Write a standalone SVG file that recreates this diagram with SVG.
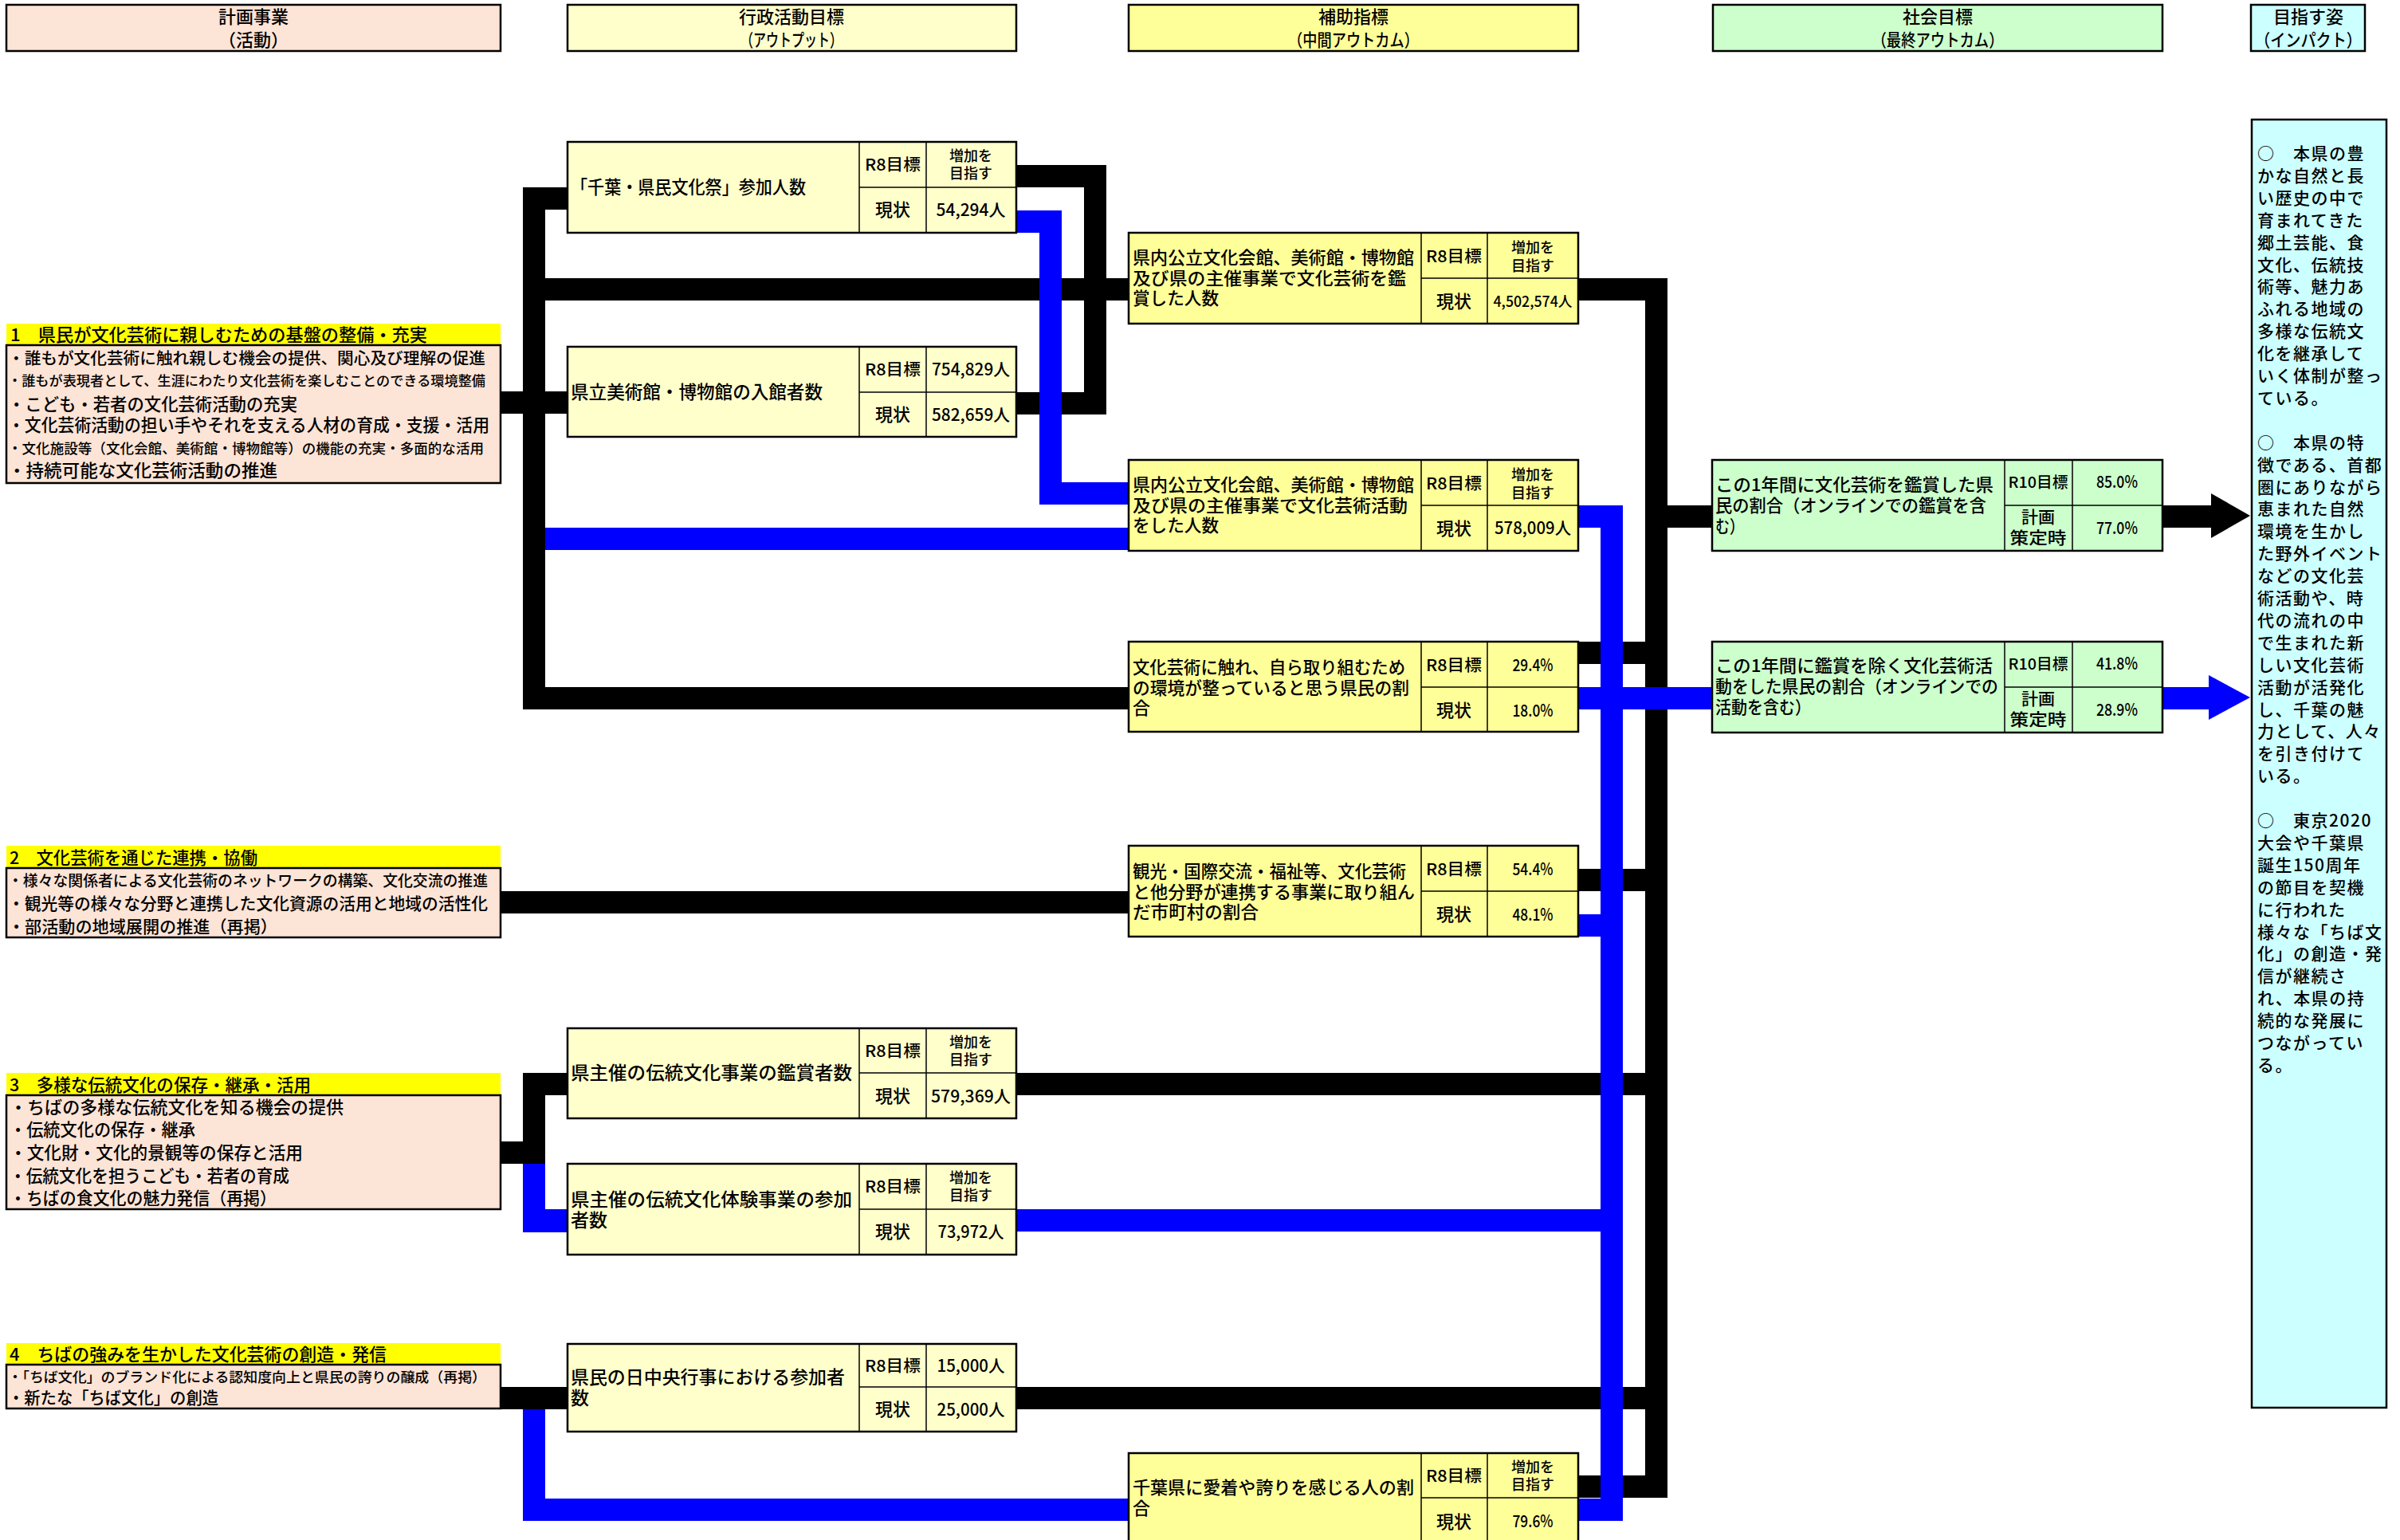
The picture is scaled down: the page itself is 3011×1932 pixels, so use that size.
<svg xmlns="http://www.w3.org/2000/svg" width="3011" height="1932" viewBox="0 0 3011 1932">
<style>
text{font-family:"Noto Sans CJK JP","Noto Sans CJK SC",sans-serif;fill:#000;font-weight:500}
.c{text-anchor:middle}
.bx{stroke:#000;stroke-width:2.5}
.dv{stroke:#000;stroke-width:1.5;fill:none}
.pe{fill:#FCE4D6}.ly{fill:#FFFFCC}.yy{fill:#FFFF99}.gr{fill:#CCFFCC}.cy{fill:#CCFFFF}.ye{fill:#FFFF00}
.k{fill:#000}.b{fill:#0000FF}
.h{font-size:22px}.lb{font-size:22px}.ol{font-size:22.5px}.r8{font-size:20px}.sm{font-size:18px}.gj{font-size:22px}.v{font-size:21px}
.im{font-size:21px;letter-spacing:1.5px}
</style>
<rect width="3011" height="1932" fill="#fff"/>

<g id="connectors">
<g class="k">
<rect x="628" y="491" width="84" height="28"/>
<rect x="656" y="235" width="28" height="655"/>
<rect x="656" y="235" width="56" height="28"/>
<rect x="656" y="349" width="760" height="28"/>
<rect x="656" y="862" width="760" height="28"/>
<rect x="1275" y="207" width="113" height="28"/>
<rect x="1360" y="207" width="28" height="313"/>
<rect x="1275" y="492" width="113" height="28"/>
<rect x="628" y="1118" width="788" height="28"/>
<rect x="628" y="1432" width="56" height="28"/>
<rect x="656" y="1346" width="28" height="114"/>
<rect x="656" y="1346" width="56" height="28"/>
<rect x="628" y="1740" width="84" height="28"/>
<rect x="1980" y="349" width="112" height="28"/>
<rect x="2064" y="349" width="28" height="1530"/>
<rect x="1980" y="805" width="84" height="28"/>
<rect x="1980" y="1090" width="84" height="28"/>
<rect x="1275" y="1346" width="789" height="28"/>
<rect x="1275" y="1740" width="789" height="28"/>
<rect x="1980" y="1851" width="112" height="28"/>
<rect x="2064" y="634" width="84" height="28"/>
<rect x="2713" y="634" width="62" height="28"/>
<polygon points="2774,619 2823,647 2774,675"/>
</g>
<g class="b">
<rect x="684" y="662" width="732" height="28"/>
<rect x="1275" y="264" width="57" height="28"/>
<rect x="1304" y="264" width="28" height="369"/>
<rect x="1304" y="605" width="112" height="28"/>
<rect x="1980" y="634" width="56" height="28"/>
<rect x="2008" y="634" width="28" height="1274"/>
<rect x="1980" y="862" width="168" height="28"/>
<rect x="1980" y="1147" width="28" height="28"/>
<rect x="1275" y="1517" width="733" height="28"/>
<rect x="1980" y="1880" width="56" height="28"/>
<rect x="656" y="1460" width="28" height="86"/>
<rect x="656" y="1517" width="56" height="29"/>
<rect x="656" y="1768" width="28" height="140"/>
<rect x="656" y="1880" width="760" height="28"/>
<rect x="2713" y="862" width="60" height="28"/>
<polygon points="2771,847 2823,875 2771,903"/>
</g>
</g>

<g id="hdr-plan"><rect class="bx pe" x="8" y="6" width="620" height="58"/><text class="c h" x="318" y="29">計画事業</text><text class="c h" x="318" y="58">（活動）</text></g>
<g id="hdr-output"><rect class="bx ly" x="712" y="6" width="563" height="58"/><text class="c h" x="993" y="29">行政活動目標</text><text class="c h" x="993" y="58" textLength="128" lengthAdjust="spacingAndGlyphs">（アウトプット）</text></g>
<g id="hdr-mid"><rect class="bx yy" x="1416" y="6" width="564" height="58"/><text class="c h" x="1698" y="29">補助指標</text><text class="c h" x="1698" y="58" textLength="164" lengthAdjust="spacingAndGlyphs">（中間アウトカム）</text></g>
<g id="hdr-final"><rect class="bx gr" x="2149" y="6" width="564" height="58"/><text class="c h" x="2431" y="29">社会目標</text><text class="c h" x="2431" y="58" textLength="165" lengthAdjust="spacingAndGlyphs">（最終アウトカム）</text></g>
<g id="hdr-impact"><rect class="bx cy" x="2824" y="6" width="143" height="58"/><text class="c h" x="2896" y="29">目指す姿</text><text class="c h" x="2896" y="58" textLength="134" lengthAdjust="spacingAndGlyphs">（インパクト）</text></g>

<g id="plan-1">
<rect class="ye" x="8" y="406" width="620" height="27"/>
<rect class="bx pe" x="8" y="433" width="620" height="173"/>
<text x="13" y="428" font-size="22" textLength="523" lengthAdjust="spacingAndGlyphs">1　県民が文化芸術に親しむための基盤の整備・充実</text>
<text x="10" y="457" font-size="20" textLength="599" lengthAdjust="spacingAndGlyphs">・誰もが文化芸術に触れ親しむ機会の提供、関心及び理解の促進</text>
<text x="10" y="484" font-size="17" textLength="599" lengthAdjust="spacingAndGlyphs">・誰もが表現者として、生涯にわたり文化芸術を楽しむことのできる環境整備</text>
<text x="10" y="515" font-size="21.5" textLength="363" lengthAdjust="spacingAndGlyphs">・こども・若者の文化芸術活動の充実</text>
<text x="10" y="541" font-size="21.5" textLength="604" lengthAdjust="spacingAndGlyphs">・文化芸術活動の担い手やそれを支える人材の育成・支援・活用</text>
<text x="10" y="569" font-size="17.5" textLength="597" lengthAdjust="spacingAndGlyphs">・文化施設等（文化会館、美術館・博物館等）の機能の充実・多面的な活用</text>
<text x="10" y="598" font-size="22" textLength="338" lengthAdjust="spacingAndGlyphs">・持続可能な文化芸術活動の推進</text>
</g>

<g id="plan-2">
<rect class="ye" x="8" y="1061" width="620" height="28"/>
<rect class="bx pe" x="8" y="1089" width="620" height="87"/>
<text x="12" y="1084" font-size="21.5" textLength="311" lengthAdjust="spacingAndGlyphs">2　文化芸術を通じた連携・協働</text>
<text x="10" y="1112" font-size="19" textLength="602" lengthAdjust="spacingAndGlyphs">・様々な関係者による文化芸術のネットワークの構築、文化交流の推進</text>
<text x="10" y="1141" font-size="21" textLength="602" lengthAdjust="spacingAndGlyphs">・観光等の様々な分野と連携した文化資源の活用と地域の活性化</text>
<text x="10" y="1170" font-size="21" textLength="338" lengthAdjust="spacingAndGlyphs">・部活動の地域展開の推進（再掲）</text>
</g>

<g id="plan-3">
<rect class="ye" x="8" y="1346" width="620" height="28"/>
<rect class="bx pe" x="8" y="1374" width="620" height="143"/>
<text x="12" y="1369" font-size="21.5" textLength="378" lengthAdjust="spacingAndGlyphs">3　多様な伝統文化の保存・継承・活用</text>
<text x="12" y="1397" font-size="21.5" textLength="419" lengthAdjust="spacingAndGlyphs">・ちばの多様な伝統文化を知る機会の提供</text>
<text x="12" y="1425" font-size="21.5" textLength="233" lengthAdjust="spacingAndGlyphs">・伝統文化の保存・継承</text>
<text x="12" y="1454" font-size="21.5" textLength="368" lengthAdjust="spacingAndGlyphs">・文化財・文化的景観等の保存と活用</text>
<text x="12" y="1483" font-size="21.5" textLength="351" lengthAdjust="spacingAndGlyphs">・伝統文化を担うこども・若者の育成</text>
<text x="12" y="1511" font-size="21.5" textLength="335" lengthAdjust="spacingAndGlyphs">・ちばの食文化の魅力発信（再掲）</text>
</g>

<g id="plan-4">
<rect class="ye" x="8" y="1685" width="620" height="27"/>
<rect class="bx pe" x="8" y="1712" width="620" height="55"/>
<text x="12" y="1707" font-size="22" textLength="473" lengthAdjust="spacingAndGlyphs">4　ちばの強みを生かした文化芸術の創造・発信</text>
<text x="10" y="1734" font-size="17.5" textLength="600" lengthAdjust="spacingAndGlyphs">・「ちば文化」のブランド化による認知度向上と県民の誇りの醸成（再掲）</text>
<text x="10" y="1761" font-size="21" textLength="264" lengthAdjust="spacingAndGlyphs">・新たな「ちば文化」の創造</text>
</g>

<g id="out-1">
<rect class="bx ly" x="712" y="178" width="563" height="114"/>
<path class="dv" d="M1078 178V292M1162 178V292M1078 235H1275"/>
<text class="ol" x="716" y="243" textLength="295" lengthAdjust="spacingAndGlyphs">「千葉・県民文化祭」参加人数</text>
<text class="c r8" x="1120" y="214" textLength="70" lengthAdjust="spacingAndGlyphs">R8目標</text>
<text class="c sm" x="1218" y="202">増加を</text>
<text class="c sm" x="1218" y="224">目指す</text>
<text class="c gj" x="1120" y="271">現状</text>
<text class="c v" x="1218" y="271" textLength="87" lengthAdjust="spacingAndGlyphs">54,294人</text>
</g>

<g id="out-2">
<rect class="bx ly" x="712" y="435" width="563" height="113"/>
<path class="dv" d="M1078 435V548M1162 435V548M1078 492H1275"/>
<text class="ol" x="716" y="500" textLength="316" lengthAdjust="spacingAndGlyphs">県立美術館・博物館の入館者数</text>
<text class="c r8" x="1120" y="471" textLength="70" lengthAdjust="spacingAndGlyphs">R8目標</text>
<text class="c v" x="1218" y="471" textLength="98" lengthAdjust="spacingAndGlyphs">754,829人</text>
<text class="c gj" x="1120" y="528">現状</text>
<text class="c v" x="1218" y="528" textLength="98" lengthAdjust="spacingAndGlyphs">582,659人</text>
</g>

<g id="out-3">
<rect class="bx ly" x="712" y="1290" width="563" height="113"/>
<path class="dv" d="M1078 1290V1403M1162 1290V1403M1078 1346H1275"/>
<text class="ol" x="716" y="1354" textLength="353" lengthAdjust="spacingAndGlyphs">県主催の伝統文化事業の鑑賞者数</text>
<text class="c r8" x="1120" y="1326" textLength="70" lengthAdjust="spacingAndGlyphs">R8目標</text>
<text class="c sm" x="1218" y="1314">増加を</text>
<text class="c sm" x="1218" y="1336">目指す</text>
<text class="c gj" x="1120" y="1383">現状</text>
<text class="c v" x="1218" y="1383" textLength="100" lengthAdjust="spacingAndGlyphs">579,369人</text>
</g>

<g id="out-4">
<rect class="bx ly" x="712" y="1460" width="563" height="114"/>
<path class="dv" d="M1078 1460V1574M1162 1460V1574M1078 1517H1275"/>
<text class="ol" x="716" y="1513" textLength="353" lengthAdjust="spacingAndGlyphs">県主催の伝統文化体験事業の参加</text>
<text class="ol" x="716" y="1539" textLength="46" lengthAdjust="spacingAndGlyphs">者数</text>
<text class="c r8" x="1120" y="1496" textLength="70" lengthAdjust="spacingAndGlyphs">R8目標</text>
<text class="c sm" x="1218" y="1484">増加を</text>
<text class="c sm" x="1218" y="1506">目指す</text>
<text class="c gj" x="1120" y="1553">現状</text>
<text class="c v" x="1218" y="1553" textLength="83" lengthAdjust="spacingAndGlyphs">73,972人</text>
</g>

<g id="out-5">
<rect class="bx ly" x="712" y="1686" width="563" height="110"/>
<path class="dv" d="M1078 1686V1796M1162 1686V1796M1078 1740H1275"/>
<text class="ol" x="716" y="1736" textLength="344" lengthAdjust="spacingAndGlyphs">県民の日中央行事における参加者</text>
<text class="ol" x="716" y="1762" textLength="23" lengthAdjust="spacingAndGlyphs">数</text>
<text class="c r8" x="1120" y="1721" textLength="70" lengthAdjust="spacingAndGlyphs">R8目標</text>
<text class="c v" x="1218" y="1721" textLength="85" lengthAdjust="spacingAndGlyphs">15,000人</text>
<text class="c gj" x="1120" y="1776">現状</text>
<text class="c v" x="1218" y="1776" textLength="85" lengthAdjust="spacingAndGlyphs">25,000人</text>
</g>

<g id="mid-a">
<rect class="bx yy" x="1416" y="292" width="564" height="114"/>
<path class="dv" d="M1783 292V406M1866 292V406M1783 349H1980"/>
<text class="lb" x="1421" y="331" textLength="353" lengthAdjust="spacingAndGlyphs">県内公立文化会館、美術館・博物館</text>
<text class="lb" x="1421" y="357" textLength="343" lengthAdjust="spacingAndGlyphs">及び県の主催事業で文化芸術を鑑</text>
<text class="lb" x="1421" y="382" textLength="108" lengthAdjust="spacingAndGlyphs">賞した人数</text>
<text class="c r8" x="1824" y="329" textLength="70" lengthAdjust="spacingAndGlyphs">R8目標</text>
<text class="c sm" x="1923" y="317">増加を</text>
<text class="c sm" x="1923" y="340">目指す</text>
<text class="c gj" x="1824" y="386">現状</text>
<text class="c" x="1923" y="385" font-size="18" textLength="99" lengthAdjust="spacingAndGlyphs">4,502,574人</text>
</g>

<g id="mid-b">
<rect class="bx yy" x="1416" y="577" width="564" height="114"/>
<path class="dv" d="M1783 577V691M1866 577V691M1783 634H1980"/>
<text class="lb" x="1421" y="616" textLength="353" lengthAdjust="spacingAndGlyphs">県内公立文化会館、美術館・博物館</text>
<text class="lb" x="1421" y="642" textLength="345" lengthAdjust="spacingAndGlyphs">及び県の主催事業で文化芸術活動</text>
<text class="lb" x="1421" y="667" textLength="108" lengthAdjust="spacingAndGlyphs">をした人数</text>
<text class="c r8" x="1824" y="614" textLength="70" lengthAdjust="spacingAndGlyphs">R8目標</text>
<text class="c sm" x="1923" y="602">増加を</text>
<text class="c sm" x="1923" y="625">目指す</text>
<text class="c gj" x="1824" y="671">現状</text>
<text class="c v" x="1923" y="670" textLength="96" lengthAdjust="spacingAndGlyphs">578,009人</text>
</g>

<g id="mid-c">
<rect class="bx yy" x="1416" y="805" width="564" height="113"/>
<path class="dv" d="M1783 805V918M1866 805V918M1783 862H1980"/>
<text class="lb" x="1421" y="845" textLength="342" lengthAdjust="spacingAndGlyphs">文化芸術に触れ、自ら取り組むため</text>
<text class="lb" x="1421" y="871" textLength="347" lengthAdjust="spacingAndGlyphs">の環境が整っていると思う県民の割</text>
<text class="lb" x="1421" y="896" textLength="22" lengthAdjust="spacingAndGlyphs">合</text>
<text class="c r8" x="1824" y="842" textLength="70" lengthAdjust="spacingAndGlyphs">R8目標</text>
<text class="c v" x="1923" y="842" textLength="51" lengthAdjust="spacingAndGlyphs">29.4%</text>
<text class="c gj" x="1824" y="899">現状</text>
<text class="c v" x="1923" y="899" textLength="51" lengthAdjust="spacingAndGlyphs">18.0%</text>
</g>

<g id="mid-d">
<rect class="bx yy" x="1416" y="1061" width="564" height="114"/>
<path class="dv" d="M1783 1061V1175M1866 1061V1175M1783 1118H1980"/>
<text class="lb" x="1421" y="1101" textLength="343" lengthAdjust="spacingAndGlyphs">観光・国際交流・福祉等、文化芸術</text>
<text class="lb" x="1421" y="1127" textLength="354" lengthAdjust="spacingAndGlyphs">と他分野が連携する事業に取り組ん</text>
<text class="lb" x="1421" y="1152" textLength="158" lengthAdjust="spacingAndGlyphs">だ市町村の割合</text>
<text class="c r8" x="1824" y="1098" textLength="70" lengthAdjust="spacingAndGlyphs">R8目標</text>
<text class="c v" x="1923" y="1098" textLength="51" lengthAdjust="spacingAndGlyphs">54.4%</text>
<text class="c gj" x="1824" y="1155">現状</text>
<text class="c v" x="1923" y="1155" textLength="51" lengthAdjust="spacingAndGlyphs">48.1%</text>
</g>

<g id="mid-e">
<rect class="bx yy" x="1416" y="1823" width="564" height="114"/>
<path class="dv" d="M1783 1823V1937M1866 1823V1937M1783 1879H1980"/>
<text class="lb" x="1421" y="1874" textLength="353" lengthAdjust="spacingAndGlyphs">千葉県に愛着や誇りを感じる人の割</text>
<text class="lb" x="1421" y="1900" textLength="22" lengthAdjust="spacingAndGlyphs">合</text>
<text class="c r8" x="1824" y="1859" textLength="70" lengthAdjust="spacingAndGlyphs">R8目標</text>
<text class="c sm" x="1923" y="1847">増加を</text>
<text class="c sm" x="1923" y="1869">目指す</text>
<text class="c gj" x="1824" y="1917">現状</text>
<text class="c v" x="1923" y="1916" textLength="51" lengthAdjust="spacingAndGlyphs">79.6%</text>
</g>

<g id="final-1">
<rect class="bx gr" x="2148" y="577" width="565" height="114"/>
<path class="dv" d="M2515 577V691M2600 577V691M2515 634H2713"/>
<text class="lb" x="2152" y="616" textLength="349" lengthAdjust="spacingAndGlyphs">この1年間に文化芸術を鑑賞した県</text>
<text class="lb" x="2152" y="642" textLength="340" lengthAdjust="spacingAndGlyphs">民の割合（オンラインでの鑑賞を含</text>
<text class="lb" x="2152" y="668" textLength="36" lengthAdjust="spacingAndGlyphs">む）</text>
<text class="c" x="2557" y="612" font-size="19" textLength="75" lengthAdjust="spacingAndGlyphs">R10目標</text>
<text class="c v" x="2656" y="612" textLength="52" lengthAdjust="spacingAndGlyphs">85.0%</text>
<text class="c" x="2557" y="656" font-size="21">計画</text>
<text class="c" x="2557" y="682" font-size="21" textLength="71" lengthAdjust="spacingAndGlyphs">策定時</text>
<text class="c v" x="2656" y="670" textLength="52" lengthAdjust="spacingAndGlyphs">77.0%</text>
</g>

<g id="final-2">
<rect class="bx gr" x="2148" y="805" width="565" height="114"/>
<path class="dv" d="M2515 805V919M2600 805V919M2515 862H2713"/>
<text class="lb" x="2152" y="843" textLength="348" lengthAdjust="spacingAndGlyphs">この1年間に鑑賞を除く文化芸術活</text>
<text class="lb" x="2152" y="869" textLength="355" lengthAdjust="spacingAndGlyphs">動をした県民の割合（オンラインでの</text>
<text class="lb" x="2152" y="895" textLength="120" lengthAdjust="spacingAndGlyphs">活動を含む）</text>
<text class="c" x="2557" y="840" font-size="19" textLength="75" lengthAdjust="spacingAndGlyphs">R10目標</text>
<text class="c v" x="2656" y="840" textLength="52" lengthAdjust="spacingAndGlyphs">41.8%</text>
<text class="c" x="2557" y="884" font-size="21">計画</text>
<text class="c" x="2557" y="910" font-size="21" textLength="71" lengthAdjust="spacingAndGlyphs">策定時</text>
<text class="c v" x="2656" y="898" textLength="52" lengthAdjust="spacingAndGlyphs">28.9%</text>
</g>

<g id="impact">
<rect class="bx cy" x="2825" y="150" width="169" height="1616"/>
<text class="im">
<tspan x="2832" y="200">○　本県の豊</tspan>
<tspan x="2832" y="227.9">かな自然と長</tspan>
<tspan x="2832" y="255.8">い歴史の中で</tspan>
<tspan x="2832" y="283.7">育まれてきた</tspan>
<tspan x="2832" y="311.6">郷土芸能、食</tspan>
<tspan x="2832" y="339.5">文化、伝統技</tspan>
<tspan x="2832" y="367.4">術等、魅力あ</tspan>
<tspan x="2832" y="395.3">ふれる地域の</tspan>
<tspan x="2832" y="423.2">多様な伝統文</tspan>
<tspan x="2832" y="451.1">化を継承して</tspan>
<tspan x="2832" y="479">いく体制が整っ</tspan>
<tspan x="2832" y="506.9">ている。</tspan>
<tspan x="2832" y="562.7">○　本県の特</tspan>
<tspan x="2832" y="590.6">徴である、首都</tspan>
<tspan x="2832" y="618.5">圏にありながら</tspan>
<tspan x="2832" y="646.4">恵まれた自然</tspan>
<tspan x="2832" y="674.3">環境を生かし</tspan>
<tspan x="2832" y="702.2">た野外イベント</tspan>
<tspan x="2832" y="730.1">などの文化芸</tspan>
<tspan x="2832" y="758">術活動や、時</tspan>
<tspan x="2832" y="785.9">代の流れの中</tspan>
<tspan x="2832" y="813.8">で生まれた新</tspan>
<tspan x="2832" y="841.7">しい文化芸術</tspan>
<tspan x="2832" y="869.6">活動が活発化</tspan>
<tspan x="2832" y="897.5">し、千葉の魅</tspan>
<tspan x="2832" y="925.4">力として、人々</tspan>
<tspan x="2832" y="953.3">を引き付けて</tspan>
<tspan x="2832" y="981.2">いる。</tspan>
<tspan x="2832" y="1037">○　東京2020</tspan>
<tspan x="2832" y="1064.9">大会や千葉県</tspan>
<tspan x="2832" y="1092.8">誕生150周年</tspan>
<tspan x="2832" y="1120.7">の節目を契機</tspan>
<tspan x="2832" y="1148.6">に行われた</tspan>
<tspan x="2832" y="1176.5">様々な「ちば文</tspan>
<tspan x="2832" y="1204.4">化」の創造・発</tspan>
<tspan x="2832" y="1232.3">信が継続さ</tspan>
<tspan x="2832" y="1260.2">れ、本県の持</tspan>
<tspan x="2832" y="1288.1">続的な発展に</tspan>
<tspan x="2832" y="1316">つながってい</tspan>
<tspan x="2832" y="1343.9">る。</tspan>
</text>
</g>
</svg>
